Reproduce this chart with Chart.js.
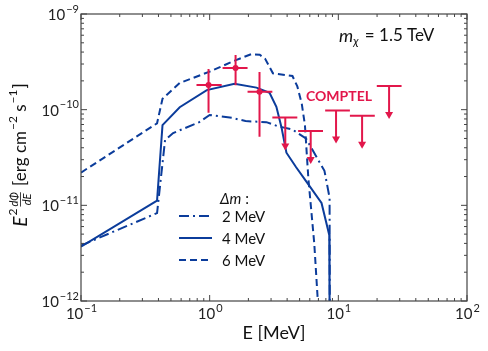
<!DOCTYPE html>
<html>
<head>
<meta charset="utf-8">
<script src="https://cdn.jsdelivr.net/npm/chart.js@4/dist/chart.umd.min.js"></script>
<style>
  html, body { margin: 0; padding: 0; background: #fff; }
  #wrap { width: 488px; height: 351px; }
</style>
</head>
<body>
<div id="wrap"><canvas id="c"></canvas></div>
<script>
const BLUE = '#0b3c9b';
const RED = '#e2174b';
const FONT = 'Lato, "DejaVu Sans", sans-serif';

// axis ranges (MeV, erg cm^-2 s^-1)
const xRange = [0.1, 100];
const yRange = [1e-12, 1e-9];

// model curves, one per mass splitting
const seriesLabels = ['2 MeV', '4 MeV', '6 MeV'];
const e2 = [0.1, 0.39, 0.45, 0.52, 0.83, 1.0, 1.5, 1.9, 2.76, 3.4, 4.4, 5.6, 7.8, 8.55, 8.58];
const f2 = [3.8e-12, 8.3e-12, 4.8e-11, 5.7e-11, 7.4e-11, 8.8e-11, 8.2e-11, 7.6e-11, 7.4e-11, 6.7e-11, 6.2e-11, 5.0e-11, 2.3e-11, 1.2e-11, 8e-13];
const e4 = [0.1, 0.39, 0.43, 0.585, 0.95, 1.56, 2.31, 2.92, 3.3, 3.61, 3.95, 4.7, 5.7, 7.4, 8.5, 8.55];
const f4 = [3.7e-12, 1.12e-11, 6.9e-11, 1.06e-10, 1.6e-10, 1.86e-10, 1.7e-10, 1.5e-10, 1.07e-10, 6.6e-11, 3.55e-11, 2.5e-11, 1.74e-11, 1.06e-11, 4.9e-12, 8e-13];
const e6 = [0.1, 0.39, 0.43, 0.585, 1.0, 1.6, 2.1, 2.45, 2.7, 3.1, 3.5, 4.4, 4.8, 5.2, 5.5, 5.85, 6.5, 7.0];
const f6 = [2.2e-11, 7.2e-11, 1.3e-10, 1.9e-10, 2.5e-10, 3.3e-10, 3.8e-10, 3.75e-10, 3.4e-10, 2.4e-10, 2.35e-10, 2.25e-10, 1.75e-10, 1.15e-10, 6.9e-11, 1.9e-11, 4e-12, 8e-13];

// COMPTEL measurements with errors
const cE = [0.98, 1.59, 2.44];
const cElo = [0.79, 1.26, 1.97];
const cEhi = [1.24, 1.97, 3.07];
const cF = [1.81e-10, 2.73e-10, 1.54e-10];
const cFlo = [9.3e-11, 1.8e-10, 5.2e-11];
const cFhi = [2.66e-10, 3.73e-10, 2.48e-10];

// COMPTEL upper limits
const uE = [3.87, 6.1, 9.6, 15.3, 24.8];
const uElo = [3.07, 4.87, 7.9, 12.3, 19.9];
const uEhi = [4.8, 7.6, 12.3, 19.2, 31];
const uF = [8.3e-11, 6.0e-11, 9.8e-11, 8.65e-11, 1.77e-10];

const toXY = (xs, ys) => xs.map((x, i) => ({ x, y: ys[i] }));
const dashes = [[10, 4, 2, 4], [], [7, 4]];

// draws frame, inward ticks and tick labels
const framePlugin = {
  id: 'frame',
  afterDraw(chart) {
    const { ctx, chartArea: a, scales: { x, y } } = chart;
    ctx.save();
    ctx.strokeStyle = '#444';
    ctx.lineWidth = 1.2;
    ctx.strokeRect(a.left, a.top, a.right - a.left, a.bottom - a.top);
    ctx.lineWidth = 1;
    ctx.fillStyle = '#222';
    const decades = (lo, hi) => {
      const out = [];
      for (let d = Math.round(Math.log10(lo)); d < Math.round(Math.log10(hi)); d++)
        for (let m = 1; m < 10; m++) out.push({ v: m * Math.pow(10, d), major: m === 1, d });
      out.push({ v: hi, major: true, d: Math.round(Math.log10(hi)) });
      return out;
    };
    const drawPow = (d, px, py, align) => {
      ctx.font = '15px ' + FONT;
      const base = '10';
      const ex = d < 0 ? '\u2212' + (-d) : String(d);
      const wb = ctx.measureText(base).width;
      ctx.font = '11px ' + FONT;
      const we = ctx.measureText(ex).width;
      let x0 = align === 'center' ? px - (wb + we) / 2 : px - wb - we;
      ctx.textAlign = 'left';
      ctx.textBaseline = 'middle';
      ctx.font = '15px ' + FONT;
      ctx.fillText(base, x0, py);
      ctx.font = '11px ' + FONT;
      ctx.fillText(ex, x0 + wb + 1, py - 6);
    };
    decades(xRange[0], xRange[1]).forEach(t => {
      const px = x.getPixelForValue(t.v);
      const len = t.major ? 6 : 3;
      ctx.beginPath();
      ctx.moveTo(px, a.bottom); ctx.lineTo(px, a.bottom - len);
      ctx.moveTo(px, a.top); ctx.lineTo(px, a.top + len);
      ctx.stroke();
      if (t.major) drawPow(t.d, px, a.bottom + 13, 'center');
    });
    decades(yRange[0], yRange[1]).forEach(t => {
      const py = y.getPixelForValue(t.v);
      const len = t.major ? 6 : 3;
      ctx.beginPath();
      ctx.moveTo(a.left, py); ctx.lineTo(a.left + len, py);
      ctx.moveTo(a.right, py); ctx.lineTo(a.right - len, py);
      ctx.stroke();
      if (t.major) drawPow(t.d, a.left - 3, py + 1, 'right');
    });

    // x title
    ctx.fillStyle = '#111';
    ctx.font = '18px ' + FONT;
    ctx.textAlign = 'center';
    ctx.textBaseline = 'middle';
    ctx.fillText('E [MeV]', (a.left + a.right) / 2, 333);

    // y title (rotated), built from pieces
    ctx.translate(21, 155);
    ctx.rotate(-Math.PI / 2);
    const parts = [
      { t: 'E', f: 'italic 19px ' + FONT, dy: 0 },
      { t: '2', f: '12px ' + FONT, dy: -8, gap: 1 },
      { frac: ['d\u03a6', 'dE'], f: 'italic 11px ' + FONT, gap: 2 },
      { t: ' [erg cm', f: '17px ' + FONT, dy: 0, gap: 2 },
      { t: '\u22122', f: '12px ' + FONT, dy: -8, gap: 1 },
      { t: ' s', f: '17px ' + FONT, dy: 0 },
      { t: '\u22121', f: '12px ' + FONT, dy: -8, gap: 1 },
      { t: ']', f: '17px ' + FONT, dy: 0, gap: 1 }
    ];
    let total = 0;
    parts.forEach(p => {
      ctx.font = p.f;
      p.w = p.frac ? Math.max(ctx.measureText(p.frac[0]).width, ctx.measureText(p.frac[1]).width)
                   : ctx.measureText(p.t).width;
      total += p.w + (p.gap || 0);
    });
    let cx = -total / 2;
    ctx.textAlign = 'left';
    ctx.textBaseline = 'middle';
    parts.forEach(p => {
      cx += p.gap || 0;
      ctx.font = p.f;
      if (p.frac) {
        ctx.textAlign = 'center';
        ctx.fillText(p.frac[0], cx + p.w / 2, -7);
        ctx.fillText(p.frac[1], cx + p.w / 2, 6);
        ctx.beginPath();
        ctx.lineWidth = 0.8;
        ctx.strokeStyle = '#111';
        ctx.moveTo(cx, -0.5); ctx.lineTo(cx + p.w, -0.5);
        ctx.stroke();
        ctx.textAlign = 'left';
      } else {
        ctx.fillText(p.t, cx, p.dy);
      }
      cx += p.w;
    });
    ctx.restore();
  }
};

// COMPTEL error bars, upper limits and annotations
const extrasPlugin = {
  id: 'extras',
  afterDatasetsDraw(chart) {
    const { ctx, scales: { x, y } } = chart;
    ctx.save();
    ctx.strokeStyle = RED;
    ctx.fillStyle = RED;
    ctx.lineWidth = 2;
    cE.forEach((e, i) => {
      const px = x.getPixelForValue(e), py = y.getPixelForValue(cF[i]);
      ctx.beginPath();
      ctx.moveTo(x.getPixelForValue(cElo[i]), py); ctx.lineTo(x.getPixelForValue(cEhi[i]), py);
      ctx.moveTo(px, y.getPixelForValue(cFlo[i])); ctx.lineTo(px, y.getPixelForValue(cFhi[i]));
      ctx.stroke();
      ctx.beginPath();
      ctx.arc(px, py, 3, 0, Math.PI * 2);
      ctx.fill();
    });
    uE.forEach((e, i) => {
      const px = x.getPixelForValue(e), py = y.getPixelForValue(uF[i]);
      const len = 33;
      ctx.beginPath();
      ctx.moveTo(x.getPixelForValue(uElo[i]), py); ctx.lineTo(x.getPixelForValue(uEhi[i]), py);
      ctx.moveTo(px, py); ctx.lineTo(px, py + len - 5);
      ctx.stroke();
      ctx.beginPath();
      ctx.moveTo(px - 4, py + len - 7); ctx.lineTo(px + 4, py + len - 7); ctx.lineTo(px, py + len);
      ctx.closePath();
      ctx.fill();
    });
    ctx.font = 'bold 14px ' + FONT;
    ctx.textAlign = 'left';
    ctx.textBaseline = 'middle';
    ctx.fillText('COMPTEL', 306, 96);

    // mass label
    ctx.fillStyle = '#111';
    ctx.font = 'italic 18px ' + FONT;
    let tx = 339;
    ctx.fillText('m', tx, 36);
    tx += ctx.measureText('m').width;
    ctx.font = 'italic 12px ' + FONT;
    ctx.fillText('\u03c7', tx, 41);
    tx += ctx.measureText('\u03c7').width + 2;
    ctx.font = '17px ' + FONT;
    ctx.fillText(' = 1.5 TeV', tx, 36);

    // legend
    ctx.font = 'italic 15px ' + FONT;
    ctx.fillText('\u0394m', 220, 199);
    const wl = ctx.measureText('\u0394m').width;
    ctx.font = '15px ' + FONT;
    ctx.fillText(' :', 220 + wl, 199);
    const rows = [216, 238, 260];
    chart.data.datasets.forEach((ds, i) => {
      ctx.strokeStyle = ds.borderColor;
      ctx.lineWidth = ds.borderWidth;
      ctx.setLineDash(ds.borderDash);
      ctx.beginPath();
      ctx.moveTo(179, rows[i]); ctx.lineTo(212, rows[i]);
      ctx.stroke();
      ctx.setLineDash([]);
      ctx.fillText(ds.label, 222, rows[i] + 1);
    });
    ctx.restore();
  }
};

new Chart(document.getElementById('c'), {
  type: 'scatter',
  data: {
    datasets: [[e2, f2], [e4, f4], [e6, f6]].map(([xs, ys], i) => ({
      label: seriesLabels[i],
      data: toXY(xs, ys),
      showLine: true,
      borderColor: BLUE,
      borderWidth: 2,
      borderDash: dashes[i],
      pointRadius: 0,
      tension: 0
    }))
  },
  options: {
    responsive: true,
    maintainAspectRatio: false,
    animation: false,
    layout: { padding: { left: 81, right: 21, top: 14, bottom: 50 } },
    plugins: { legend: { display: false }, tooltip: { enabled: false } },
    scales: {
      x: { type: 'logarithmic', min: xRange[0], max: xRange[1], display: false },
      y: { type: 'logarithmic', min: yRange[0], max: yRange[1], display: false }
    }
  },
  plugins: [framePlugin, extrasPlugin]
});
</script>
</body>
</html>
